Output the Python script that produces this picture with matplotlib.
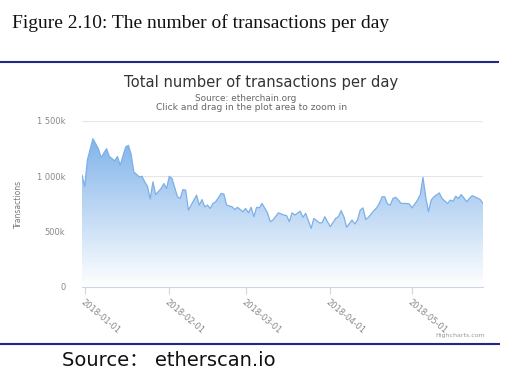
import numpy as np
import matplotlib
matplotlib.use("Agg")
import matplotlib.pyplot as plt
import matplotlib.dates as mdates
from matplotlib.patches import Polygon

# days after 2018-01-01 and daily transaction count (thousands)
start = np.datetime64("2018-01-01")
days = [-1, 0, 1, 3, 5, 6, 8, 9, 11, 12, 13, 15, 16, 17, 18, 20, 21, 22, 23, 24,
        25, 26, 28, 29, 30, 31, 32, 34, 35, 36, 37, 38, 40, 41, 42, 43, 44, 45, 46, 47,
        48, 50, 51, 52, 54, 55, 56, 58, 59, 60, 61, 62, 63, 64, 65, 67, 68, 69, 71, 73,
        74, 75, 76, 77, 79, 80, 81, 83, 84, 86, 87, 88, 90, 92, 93, 94, 95, 96, 98, 99,
        100, 101, 102, 103, 104, 106, 107, 108, 109, 110, 111, 112, 113, 114, 115, 116, 118, 119, 120, 122,
        123, 124, 125, 126, 127, 128, 130, 131, 133, 134, 135, 136, 137, 138, 139, 140, 141, 142, 143, 145,
        146]
tx_k = [1010, 910, 1150, 1340, 1250, 1170, 1250, 1180, 1140, 1180, 1100, 1265, 1280, 1200, 1040, 995, 1000, 950, 910, 795,
        950, 835, 890, 935, 890, 1000, 980, 815, 800, 880, 875, 695, 785, 830, 740, 790, 725, 740, 710, 755,
        770, 845, 840, 740, 725, 700, 720, 680, 710, 670, 720, 635, 720, 715, 755, 670, 590, 605, 670, 650,
        645, 590, 670, 650, 685, 630, 665, 530, 620, 580, 580, 635, 545, 620, 635, 690, 635, 540, 605, 570,
        605, 695, 715, 610, 630, 690, 715, 755, 815, 815, 750, 740, 800, 810, 785, 755, 755, 750, 715, 785,
        835, 990, 815, 680, 785, 815, 850, 800, 755, 785, 775, 820, 800, 835, 805, 770, 800, 825, 815, 790,
        755]
tick_dates = ["2018-01-01", "2018-02-01", "2018-03-01", "2018-04-01", "2018-05-01"]
y_ticks = [0, 500, 1000, 1500]
y_labels = ["0", "500k", "1 000k", "1 500k"]

W, H = 524, 382
fig = plt.figure(figsize=(W / 100, H / 100), dpi=100)
fig.patch.set_facecolor("white")


def fx(px):
    return px / W


def fy(py):
    return 1 - py / H


# document frame: caption, rules, source line
fig.text(fx(12), fy(28), "Figure 2.10: The number of transactions per day",
         family="Liberation Serif", fontsize=14, color="#111111", va="baseline")
fig.add_artist(plt.Line2D([0, fx(498)], [fy(62), fy(62)], color="#1f2a80", lw=1.5))
fig.add_artist(plt.Line2D([0, fx(499)], [fy(344), fy(344)], color="#1f2a80", lw=1.5))
fig.text(fx(62), fy(366), "Source： etherscan.io", family=["DejaVu Sans", "Noto Sans CJK SC"],
         fontsize=14, color="#111111", va="baseline")

# chart titles
fig.text(fx(261), fy(82), "Total number of transactions per day", fontsize=10.6,
         color="#333333", ha="center", va="center")
fig.text(fx(246), fy(98.5), "Source: etherchain.org", fontsize=6.4,
         color="#666666", ha="center", va="center")
fig.text(fx(252), fy(108), "Click and drag in the plot area to zoom in", fontsize=6.6,
         color="#666666", ha="center", va="center")
fig.text(fx(485), fy(336), "Highcharts.com", fontsize=4.5, color="#999999",
         ha="right", va="center")

ax = fig.add_axes([fx(82), fy(287), fx(483) - fx(82), (287 - 121) / H])
dates = start + np.array(days).astype("timedelta64[D]")
x = mdates.date2num(dates)
y = np.array(tx_k, dtype=float)

# gradient fill clipped to the area under the line
grad = np.linspace(0, 1, 256).reshape(-1, 1)
top_c = np.array([0.45, 0.67, 0.91])
bot_c = np.array([1.0, 1.0, 1.0])
img = top_c * grad + bot_c * (1 - grad)
img = img[:, None, :]
im = ax.imshow(img, aspect="auto", origin="lower",
               extent=[x[0], x[-1], 0, 1500], zorder=1)
poly = Polygon(np.column_stack([np.r_[x[0], x, x[-1]], np.r_[0, y, 0]]),
               closed=True, facecolor="none", edgecolor="none")
ax.add_patch(poly)
im.set_clip_path(poly)
ax.plot(x, y, color="#7cb0e6", lw=0.9, zorder=3)

ax.set_xlim(x[0], x[-1])
ax.set_ylim(0, 1500)
for v in y_ticks[1:]:
    ax.axhline(v, color="#e6e6e6", lw=0.8, zorder=0)
ax.set_yticks(y_ticks)
ax.set_yticklabels(y_labels)
ax.tick_params(axis="y", length=0, labelsize=6, labelcolor="#888888", pad=12)
ax.set_ylabel("Transactions", fontsize=5.5, color="#777777", labelpad=10)

tx = mdates.date2num(np.array(tick_dates, dtype="datetime64[D]"))
ax.set_xticks(tx)
ax.set_xticklabels(tick_dates, rotation=-40, ha="left", va="top",
                   rotation_mode="anchor")
ax.tick_params(axis="x", length=5, color="#ccd6eb", labelsize=6,
               labelcolor="#888888", pad=3)
for s in ["top", "right", "left"]:
    ax.spines[s].set_visible(False)
ax.spines["bottom"].set_color("#ccd6eb")
ax.spines["bottom"].set_linewidth(0.8)

fig.savefig("out.png", dpi=100)
